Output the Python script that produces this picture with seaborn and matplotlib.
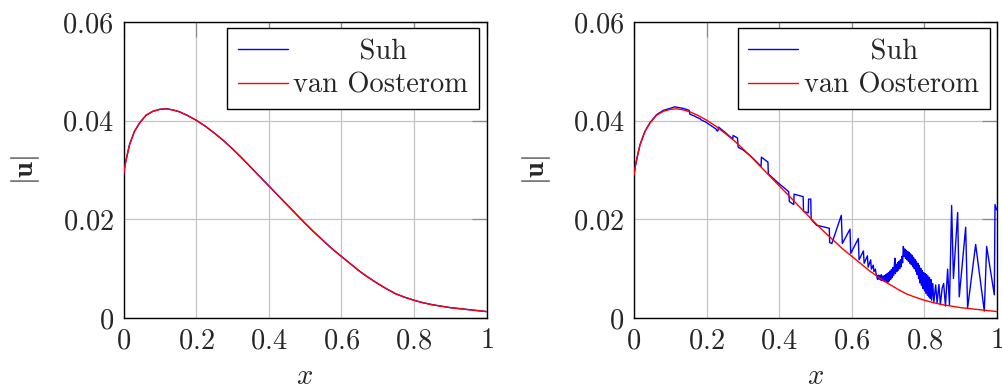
import numpy as np
import pandas as pd
import matplotlib
matplotlib.use("Agg")
import matplotlib.pyplot as plt
import seaborn as sns
from matplotlib.font_manager import FontProperties
from matplotlib.lines import Line2D

# ---------------- data ----------------
x_ticks = [0, 0.2, 0.4, 0.6, 0.8, 1.0]
x_tick_labels = ["$0$", "$0.2$", "$0.4$", "$0.6$", "$0.8$", "$1$"]
y_ticks = [0, 0.02, 0.04, 0.06]
y_tick_labels = ["$0$", "$0.02$", "$0.04$", "$0.06$"]
series_names = ["Suh", "van Oosterom"]

# van Oosterom (smooth reference solution)
vo_x = [0.000, 0.003, 0.0073, 0.0165, 0.030, 0.044, 0.062, 0.081, 0.100, 0.117,
        0.135, 0.154, 0.175, 0.200, 0.225, 0.250, 0.275, 0.300, 0.325, 0.350,
        0.375, 0.400, 0.425, 0.450, 0.475, 0.500, 0.525, 0.550, 0.575, 0.600,
        0.625, 0.650, 0.675, 0.700, 0.725, 0.750, 0.775, 0.800, 0.825, 0.850,
        0.875, 0.900, 0.925, 0.950, 0.975, 1.000]
vo_y = [0.0290, 0.0305, 0.0321, 0.0351, 0.0378, 0.0395, 0.0411, 0.0419, 0.0423, 0.0424,
        0.0422, 0.0418, 0.0411, 0.0401, 0.0389, 0.0375, 0.0360, 0.0343, 0.0325, 0.0306,
        0.0287, 0.0268, 0.0249, 0.0230, 0.0211, 0.0192, 0.0174, 0.0157, 0.0140, 0.0125,
        0.0110, 0.0095, 0.0082, 0.0070, 0.0059, 0.0049, 0.0042, 0.0036, 0.0031, 0.0027,
        0.0024, 0.0021, 0.0019, 0.0017, 0.0015, 0.0013]

# Suh, left panel (coincides with van Oosterom)
suh_left_x = list(vo_x)
suh_left_y = list(vo_y)

# Suh, right panel (noisy)
suh_right_x = [0.000, 0.003, 0.0073, 0.0165, 0.030, 0.044, 0.062, 0.081, 0.100, 0.112,
               0.120, 0.135, 0.148, 0.152, 0.154, 0.165, 0.175, 0.182, 0.184, 0.198,
               0.212, 0.226, 0.228, 0.231, 0.233, 0.250, 0.262, 0.272, 0.273, 0.285,
               0.287, 0.300, 0.320, 0.340, 0.350, 0.351, 0.369, 0.370, 0.385, 0.400,
               0.415, 0.426, 0.428, 0.440, 0.441, 0.466, 0.467, 0.480, 0.481, 0.487,
               0.488, 0.503, 0.520, 0.538, 0.539, 0.545, 0.571, 0.574, 0.595, 0.597,
               0.618, 0.620, 0.632, 0.634, 0.643, 0.645, 0.652, 0.654, 0.659, 0.661,
               0.665, 0.667,
               0.669, 0.671, 0.673, 0.675, 0.677, 0.679, 0.681, 0.683, 0.685, 0.687,
               0.689, 0.691, 0.693, 0.695, 0.697, 0.699, 0.701, 0.703, 0.705, 0.707,
               0.709, 0.711, 0.713, 0.715, 0.717, 0.719, 0.720, 0.722, 0.724, 0.726,
               0.728, 0.730, 0.732, 0.734, 0.736, 0.738, 0.740, 0.742, 0.744, 0.746,
               0.748, 0.750, 0.752, 0.754, 0.756, 0.758, 0.760, 0.762, 0.764, 0.766,
               0.768, 0.770, 0.772, 0.774, 0.776, 0.778, 0.780, 0.782, 0.784, 0.786,
               0.788, 0.790, 0.792, 0.794, 0.796, 0.798, 0.800, 0.802, 0.804, 0.806,
               0.808, 0.810, 0.812, 0.814, 0.816, 0.818, 0.820, 0.823, 0.826, 0.831,
               0.835, 0.840, 0.844, 0.849, 0.853, 0.858, 0.864, 0.869, 0.875, 0.880,
               0.8916, 0.896, 0.9137, 0.919, 0.9412, 0.965, 0.9715, 0.9926, 0.9945, 0.999]
suh_right_y = [0.0290, 0.0305, 0.0321, 0.0351, 0.0378, 0.0396, 0.0412, 0.0421, 0.0425, 0.0428,
               0.0427, 0.0425, 0.0422, 0.0421, 0.0413, 0.0410, 0.0406, 0.0404, 0.0402, 0.0397,
               0.0390, 0.0383, 0.0380, 0.0379, 0.0387, 0.0377, 0.0369, 0.0363, 0.0370, 0.0365,
               0.0346, 0.0341, 0.0329, 0.0315, 0.0307, 0.0326, 0.0316, 0.0292, 0.0282, 0.0272,
               0.0263, 0.0256, 0.0236, 0.0230, 0.0251, 0.0246, 0.0216, 0.0213, 0.0241, 0.0241,
               0.0200, 0.0188, 0.0185, 0.0182, 0.0153, 0.0151, 0.0208, 0.0151, 0.0180, 0.0131,
               0.0161, 0.0118, 0.0136, 0.0111, 0.0126, 0.0103, 0.0118, 0.0099, 0.0107, 0.0094,
               0.0099, 0.0089,
               0.0084, 0.0078, 0.0087, 0.0079, 0.0086, 0.0077, 0.0088, 0.0076, 0.0085, 0.0075,
               0.0086, 0.0074, 0.0088, 0.0073, 0.0090, 0.0072, 0.0092, 0.0075, 0.0095, 0.0078,
               0.0098, 0.0082, 0.0102, 0.0086, 0.0106, 0.0121, 0.0090, 0.0108, 0.0094, 0.0112,
               0.0097, 0.0115, 0.0100, 0.0118, 0.0104, 0.0125, 0.0112, 0.0145, 0.0125, 0.0140,
               0.0121, 0.0137, 0.0118, 0.0135, 0.0115, 0.0133, 0.0111, 0.0130, 0.0108, 0.0127,
               0.0104, 0.0123, 0.0100, 0.0119, 0.0095, 0.0115, 0.0088, 0.0111, 0.0080, 0.0106,
               0.0071, 0.0101, 0.0066, 0.0096, 0.0060, 0.0092, 0.0055, 0.0090, 0.0050, 0.0088,
               0.0046, 0.0085, 0.0043, 0.0082, 0.0040, 0.0078, 0.0036, 0.0070, 0.0032, 0.0067,
               0.0031, 0.0068, 0.0027, 0.0061, 0.0070, 0.0024, 0.0099, 0.0026, 0.0228, 0.0080,
               0.0214, 0.0043, 0.0184, 0.0020, 0.0149, 0.0014, 0.0145, 0.0047, 0.0230, 0.0219]

# ---------------- style ----------------
sns.set_style("white")
plt.rcParams["font.family"] = ["cmr10", "DejaVu Serif"]
plt.rcParams["mathtext.fontset"] = "cm"
plt.rcParams["axes.unicode_minus"] = False
plt.rcParams["axes.formatter.use_mathtext"] = True

FS = 20.5
BLUE = "#0000ff"
RED = "#ff0000"
GRID = "#c4c4c4"
TICK = "#8a8a8a"

fig = plt.figure(figsize=(10.02, 3.90), dpi=100)
W, H = 1002.0, 390.0
ax_w = 363.0 / W
ax_h = 296.0 / H
bottom = 72.0 / H
axL = fig.add_axes([123.5 / W, bottom, ax_w, ax_h])
axR = fig.add_axes([634.0 / W, bottom, ax_w, ax_h])

# centre the short legend entry like pgfplots does
renderer = fig.canvas.get_renderer()
fp = FontProperties(family="cmr10", size=FS)
def tw(s):
    return renderer.get_text_width_height_descent(s, fp, ismath=False)[0]
space_w = tw("a a") - tw("aa")
n_sp = int(round((tw(series_names[1]) - tw(series_names[0])) / 2.0 / space_w))
suh_label = " " * n_sp + series_names[0]


def panel(ax, sx, sy):
    df_s = pd.DataFrame({"x": sx, "y": sy})
    df_v = pd.DataFrame({"x": vo_x, "y": vo_y})
    sns.lineplot(data=df_s, x="x", y="y", ax=ax, color=BLUE, lw=1.0,
                 sort=False, estimator=None, legend=False, zorder=3)
    sns.lineplot(data=df_v, x="x", y="y", ax=ax, color=RED, lw=1.0,
                 sort=False, estimator=None, legend=False, zorder=4)
    ax.set_xlim(0, 1)
    ax.set_ylim(0, 0.06)
    ax.set_xticks(x_ticks)
    ax.set_xticklabels(x_tick_labels)
    ax.set_yticks(y_ticks)
    ax.set_yticklabels(y_tick_labels)
    ax.grid(True, color=GRID, lw=0.9)
    ax.set_axisbelow(True)
    ax.tick_params(direction="in", length=11, width=0.9, color=TICK,
                   top=True, right=True, labelsize=FS, pad=7)
    for s in ax.spines.values():
        s.set_color("black")
        s.set_linewidth(1.0)
    ax.set_xlabel("$x$", fontsize=FS)
    ax.set_ylabel(r"$|\mathbf{u}|$", fontsize=FS)
    ax.xaxis.set_label_coords(0.5, -0.155)
    ax.yaxis.set_label_coords(-0.2245, 0.5)
    handles = [Line2D([], [], color=BLUE, lw=1.0), Line2D([], [], color=RED, lw=1.0)]
    leg = ax.legend(handles, [suh_label, series_names[1]], loc="upper right",
                    bbox_to_anchor=(0.98, 0.98), borderaxespad=0, fontsize=FS,
                    frameon=True, fancybox=False, edgecolor="black", framealpha=1,
                    handlelength=1.75, handletextpad=0.2, borderpad=0.38,
                    labelspacing=0.25)
    leg.get_frame().set_linewidth(1.0)
    leg.set_zorder(10)


panel(axL, suh_left_x, suh_left_y)
panel(axR, suh_right_x, suh_right_y)

fig.savefig("out.png", dpi=100)
